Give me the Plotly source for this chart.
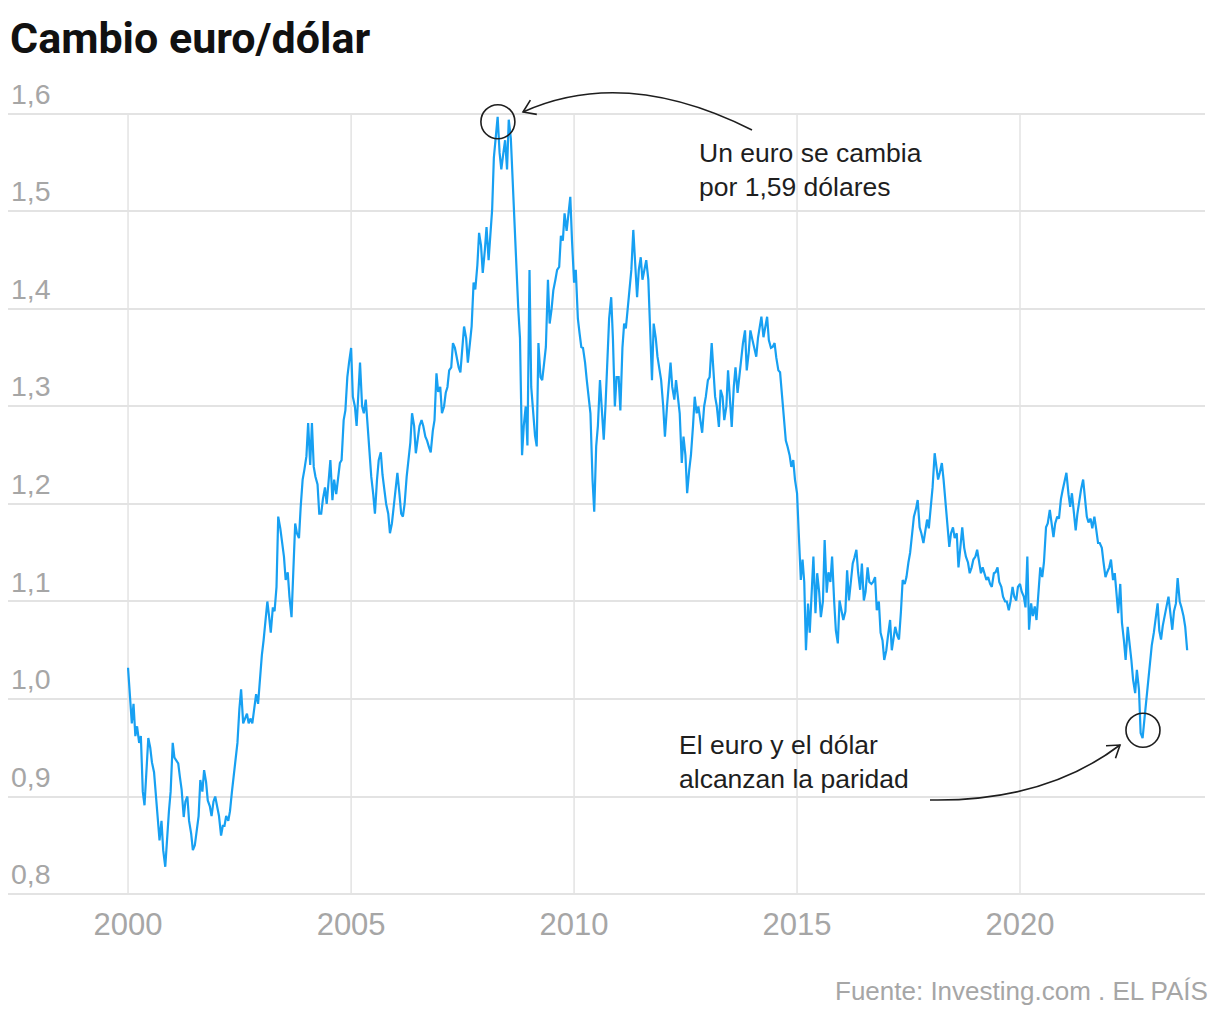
import numpy as np
import pandas as pd
import plotly.graph_objects as go

# Semi-monthly EUR/USD readings (1st and 15th of each month)
eur_2000 = [1.032, 1.005, 0.975, 0.995, 0.962, 0.972, 0.955, 0.962, 0.905, 0.891, 0.935, 0.960,
            0.950, 0.935, 0.925, 0.905, 0.880, 0.855, 0.875, 0.845, 0.828, 0.860, 0.885, 0.905]
eur_2001 = [0.955, 0.940, 0.937, 0.934, 0.920, 0.907, 0.879, 0.895, 0.900, 0.875, 0.862, 0.845,
            0.850, 0.862, 0.880, 0.917, 0.905, 0.927, 0.915, 0.896, 0.890, 0.880, 0.895, 0.900]
eur_2002 = [0.890, 0.880, 0.860, 0.870, 0.870, 0.880, 0.875, 0.885, 0.905, 0.920, 0.935, 0.955,
            0.990, 1.010, 0.975, 0.980, 0.985, 0.975, 0.980, 0.975, 0.990, 1.005, 0.995, 1.020]
eur_2003 = [1.045, 1.060, 1.085, 1.100, 1.085, 1.068, 1.094, 1.090, 1.115, 1.187, 1.175, 1.163,
            1.146, 1.122, 1.130, 1.105, 1.084, 1.129, 1.180, 1.170, 1.165, 1.197, 1.225, 1.235]
eur_2004 = [1.249, 1.283, 1.240, 1.283, 1.238, 1.228, 1.220, 1.190, 1.190, 1.205, 1.217, 1.200,
            1.220, 1.245, 1.204, 1.225, 1.210, 1.225, 1.242, 1.245, 1.286, 1.296, 1.330, 1.345]
eur_2005 = [1.360, 1.310, 1.300, 1.280, 1.310, 1.345, 1.300, 1.293, 1.307, 1.280, 1.250, 1.228,
            1.210, 1.190, 1.225, 1.245, 1.253, 1.230, 1.214, 1.200, 1.190, 1.170, 1.180, 1.195]
eur_2006 = [1.211, 1.232, 1.210, 1.190, 1.187, 1.200, 1.228, 1.245, 1.263, 1.293, 1.280, 1.252,
            1.270, 1.280, 1.286, 1.280, 1.269, 1.265, 1.258, 1.253, 1.275, 1.286, 1.334, 1.315]
eur_2007 = [1.320, 1.293, 1.300, 1.314, 1.320, 1.337, 1.340, 1.365, 1.360, 1.350, 1.340, 1.335,
            1.360, 1.382, 1.370, 1.345, 1.365, 1.382, 1.427, 1.420, 1.445, 1.478, 1.465, 1.437]
eur_2008 = [1.460, 1.484, 1.450, 1.475, 1.502, 1.555, 1.580, 1.597, 1.560, 1.543, 1.560, 1.573,
            1.543, 1.594, 1.575, 1.532, 1.490, 1.440, 1.400, 1.370, 1.250, 1.280, 1.300, 1.260]
eur_2009 = [1.440, 1.320, 1.293, 1.270, 1.259, 1.365, 1.330, 1.327, 1.345, 1.361, 1.430, 1.385,
            1.400, 1.419, 1.430, 1.440, 1.443, 1.475, 1.470, 1.498, 1.480, 1.500, 1.515, 1.470]
eur_2010 = [1.427, 1.440, 1.390, 1.375, 1.361, 1.360, 1.345, 1.327, 1.310, 1.293, 1.225, 1.192,
            1.259, 1.280, 1.327, 1.300, 1.266, 1.300, 1.360, 1.390, 1.412, 1.370, 1.300, 1.330]
eur_2011 = [1.330, 1.296, 1.360, 1.385, 1.380, 1.400, 1.422, 1.440, 1.481, 1.450, 1.412, 1.440,
            1.453, 1.430, 1.440, 1.450, 1.430, 1.371, 1.327, 1.385, 1.370, 1.351, 1.340, 1.327]
eur_2012 = [1.300, 1.269, 1.300, 1.327, 1.345, 1.320, 1.307, 1.327, 1.310, 1.293, 1.242, 1.269,
            1.250, 1.211, 1.235, 1.250, 1.280, 1.310, 1.293, 1.300, 1.285, 1.273, 1.300, 1.310]
eur_2013 = [1.327, 1.330, 1.365, 1.330, 1.310, 1.300, 1.279, 1.317, 1.310, 1.286, 1.300, 1.337,
            1.310, 1.279, 1.320, 1.340, 1.314, 1.330, 1.355, 1.365, 1.378, 1.337, 1.355, 1.378]
eur_2014 = [1.368, 1.360, 1.351, 1.370, 1.380, 1.392, 1.371, 1.380, 1.392, 1.368, 1.360, 1.361,
            1.365, 1.350, 1.337, 1.335, 1.310, 1.296, 1.265, 1.259, 1.250, 1.238, 1.245, 1.225]
eur_2015 = [1.211, 1.170, 1.122, 1.143, 1.120, 1.050, 1.098, 1.068, 1.110, 1.146, 1.088, 1.129,
            1.110, 1.084, 1.100, 1.163, 1.109, 1.130, 1.120, 1.146, 1.100, 1.070, 1.057, 1.101]
eur_2016 = [1.090, 1.081, 1.090, 1.132, 1.101, 1.120, 1.139, 1.145, 1.153, 1.130, 1.112, 1.139,
            1.101, 1.110, 1.135, 1.120, 1.118, 1.120, 1.125, 1.091, 1.100, 1.068, 1.060, 1.040]
eur_2017 = [1.050, 1.065, 1.081, 1.050, 1.060, 1.074, 1.065, 1.061, 1.090, 1.122, 1.118, 1.125,
            1.140, 1.150, 1.170, 1.187, 1.195, 1.204, 1.176, 1.170, 1.160, 1.170, 1.184, 1.175]
eur_2018 = [1.200, 1.217, 1.252, 1.235, 1.225, 1.232, 1.242, 1.225, 1.204, 1.184, 1.156, 1.170,
            1.176, 1.165, 1.170, 1.135, 1.160, 1.176, 1.155, 1.146, 1.140, 1.129, 1.135, 1.143]
eur_2019 = [1.146, 1.153, 1.140, 1.129, 1.135, 1.130, 1.122, 1.125, 1.118, 1.115, 1.129, 1.130,
            1.135, 1.120, 1.115, 1.105, 1.100, 1.100, 1.091, 1.100, 1.115, 1.105, 1.101, 1.115]
eur_2020 = [1.118, 1.110, 1.105, 1.094, 1.146, 1.071, 1.098, 1.085, 1.095, 1.081, 1.110, 1.135,
            1.125, 1.140, 1.176, 1.180, 1.194, 1.180, 1.166, 1.180, 1.187, 1.185, 1.205, 1.214]
eur_2021 = [1.225, 1.232, 1.210, 1.197, 1.211, 1.190, 1.173, 1.190, 1.204, 1.215, 1.225, 1.210,
            1.187, 1.181, 1.185, 1.175, 1.187, 1.175, 1.160, 1.160, 1.155, 1.140, 1.125, 1.130]
eur_2022 = [1.135, 1.143, 1.122, 1.129, 1.110, 1.088, 1.118, 1.078, 1.060, 1.040, 1.074, 1.060,
            1.040, 1.020, 1.006, 1.030, 1.010, 0.965, 0.960, 0.978, 0.999, 1.020, 1.043, 1.055]
eur_2023 = [1.068, 1.080, 1.098, 1.070, 1.061, 1.075, 1.088, 1.095, 1.105, 1.090, 1.071, 1.090,
            1.098, 1.124, 1.100, 1.094, 1.085, 1.074, 1.050]

years = list(range(2000, 2024))
yearly = [eur_2000, eur_2001, eur_2002, eur_2003, eur_2004, eur_2005, eur_2006, eur_2007,
          eur_2008, eur_2009, eur_2010, eur_2011, eur_2012, eur_2013, eur_2014, eur_2015,
          eur_2016, eur_2017, eur_2018, eur_2019, eur_2020, eur_2021, eur_2022, eur_2023]
grid_years = [2000, 2005, 2010, 2015, 2020]

parts = []
for y, vals in zip(years, yearly):
    d = pd.date_range(f"{y}-01-01", periods=len(vals), freq="SMS")
    parts.append(pd.DataFrame({"date": d, "rate": vals}))
df = pd.concat(parts, ignore_index=True)

peak_note = "Un euro se cambia<br>por 1,59 dólares"
parity_note = "El euro y el dólar<br>alcanzan la paridad"

LINE = "#17a0f2"
GRID = "#e3e3e3"
TICK = "#a6a6a6"
TEXT = "#1e1e1e"
FONT = "Liberation Sans"

# the page body has an 8px margin; positions below are screen pixels
OFF = 8
W, H = 1204, 1004
L, R, T, B = 8, 1205, 70, 896   # plot area on screen


def paper(px, py):
    return (px - L) / (R - L), (B - py) / (B - T)


def curve_arrow(p0, c, p1):
    """quadratic curve + open arrowhead at p1, in screen pixels"""
    x0, y0 = paper(*p0)
    cx, cy = paper(*c)
    x1, y1 = paper(*p1)
    body = f"M {x0},{y0} Q {cx},{cy} {x1},{y1}"
    dx, dy = p1[0] - c[0], p1[1] - c[1]
    n = np.hypot(dx, dy)
    dx, dy = dx / n, dy / n
    size, ang = 14, np.radians(34)
    pts = []
    for s in (ang, -ang):
        rx = -(dx * np.cos(s) - dy * np.sin(s)) * size
        ry = -(dx * np.sin(s) + dy * np.cos(s)) * size
        pts.append(paper(p1[0] + rx, p1[1] + ry))
    head = f"M {pts[0][0]},{pts[0][1]} L {x1},{y1} L {pts[1][0]},{pts[1][1]}"
    style = dict(type="path", xref="paper", yref="paper", line=dict(color=TEXT, width=1.6))
    return [dict(path=body, **style), dict(path=head, **style)]


fig = go.Figure()
fig.add_trace(go.Scatter(
    x=df["date"], y=df["rate"], mode="lines",
    line=dict(color=LINE, width=2.2), hoverinfo="x+y",
))

# vertical grid lines only span the 0.8 - 1.6 band
shapes = [dict(type="line", xref="x", yref="y", x0=f"{g}-01-01", x1=f"{g}-01-01",
               y0=0.8, y1=1.6, layer="below", line=dict(color=GRID, width=1.5))
          for g in grid_years]
for cx, cy in [("2008-04-17", 1.592), ("2022-10-04", 0.968)]:
    shapes.append(dict(type="circle", xref="x", yref="y", xsizemode="pixel", ysizemode="pixel",
                       xanchor=cx, yanchor=cy, x0=-17, x1=17, y0=-17, y1=17,
                       line=dict(color=TEXT, width=1.6)))
shapes += curve_arrow((752, 130), (625, 66), (523, 112))
shapes += curve_arrow((930, 800), (1045, 802), (1120, 745))

annotations = [
    dict(text="<b>Cambio euro/dólar</b>", xref="paper", yref="paper",
         x=paper(8, 0)[0], y=paper(0, 38)[1], xanchor="left", yanchor="middle",
         showarrow=False, font=dict(family="Roboto", size=43, color="#111111", weight=900)),
    dict(text=peak_note, xref="paper", yref="paper", x=paper(697, 0)[0], y=paper(0, 170)[1],
         xanchor="left", yanchor="middle", align="left", showarrow=False,
         font=dict(family=FONT, size=26.5, color=TEXT)),
    dict(text=parity_note, xref="paper", yref="paper", x=paper(677, 0)[0], y=paper(0, 762)[1],
         xanchor="left", yanchor="middle", align="left", showarrow=False,
         font=dict(family=FONT, size=26.5, color=TEXT)),
    dict(text="Fuente: Investing.com . EL PAÍS", xref="paper", yref="paper",
         x=paper(1210, 0)[0], y=paper(0, 991)[1], xanchor="right", yanchor="middle",
         showarrow=False, font=dict(family=FONT, size=26, color=TICK)),
]

fig.update_layout(
    width=W, height=H,
    margin=dict(l=L - OFF, r=W - (R - OFF), t=T - OFF, b=H - (B - OFF)),
    plot_bgcolor="white", paper_bgcolor="white",
    separators=",.",
    showlegend=False,
    shapes=shapes,
    annotations=annotations,
    font=dict(family=FONT),
)
fig.update_xaxes(
    range=["1997-04-23", "2024-02-24"],
    tick0="2000-01-01", dtick="M60", tickformat="%Y",
    showgrid=False, showline=False, zeroline=False, ticks="",
    tickfont=dict(family=FONT, size=31, color=TICK),
    ticklabelstandoff=7,
)
fig.update_yaxes(
    range=[0.798, 1.645], dtick=0.1, tick0=0.8, tickformat=".1f",
    ticklabelposition="inside top",
    showgrid=True, gridcolor=GRID, gridwidth=1.5,
    showline=False, zeroline=False, ticks="",
    tickfont=dict(family=FONT, size=28.5, color=TICK),
)

fig.write_html("out.html")
